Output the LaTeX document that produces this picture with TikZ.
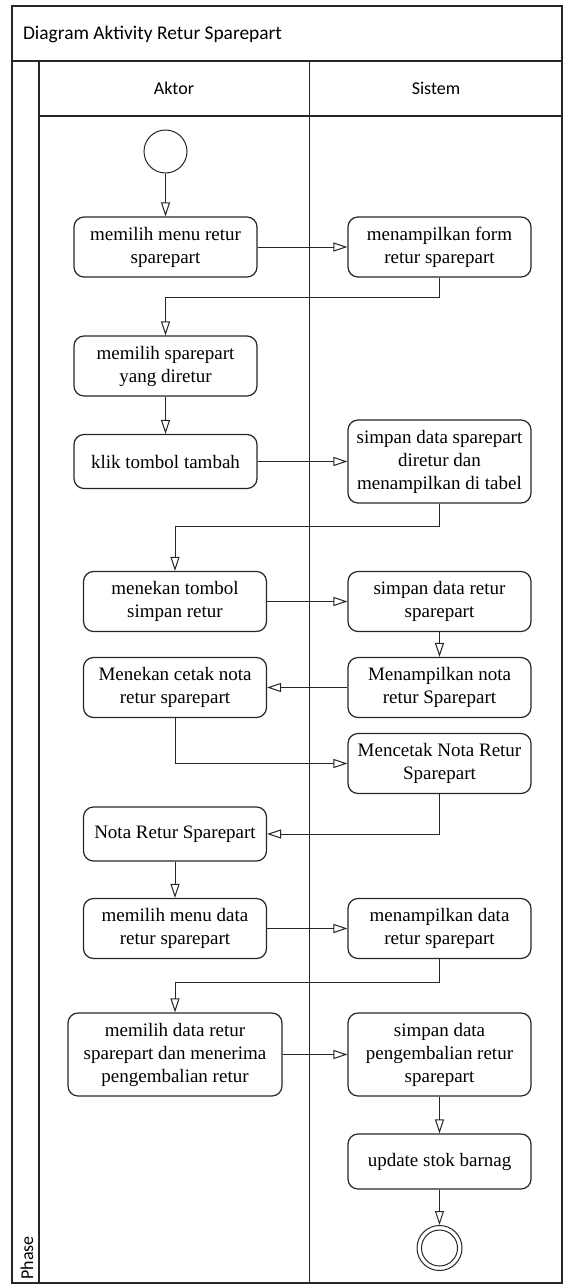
\documentclass[tikz,border=0pt]{standalone}
\usepackage{fontspec}
\setmainfont{Liberation Serif}
\newfontfamily\lanefont{Carlito}
\usepackage{tikz}
\tikzset{action node/.style={rectangle,rounded corners=5pt,draw=black!85,line width=0.6pt,align=center,minimum width=91.5pt,minimum height=30pt,inner sep=1pt,font=\fontsize{9.5}{11.5}\selectfont},
	flow line/.style={draw=black!85,line width=0.5pt,-{Triangle[open,length=7pt,width=4.5pt]}},
	start node/.style={circle,draw=black!85,line width=0.5pt,minimum size=21.5pt,inner sep=0pt},
	lane text/.style={font=\lanefont\fontsize{9}{11}\selectfont},
}
\usetikzlibrary{positioning,arrows.meta}

\begin{document}
\begin{tikzpicture}[x=0.5pt,y=-0.5pt]
			\useasboundingbox (0,0) rectangle (563,1284);
			
			%% frame and lanes
			\draw[black!85,line width=0.7pt] (12,6) rectangle (562,1283);
			\draw[black!85,line width=0.7pt] (12,61) -- (562,61);
			\draw[black!85,line width=0.7pt] (39,61) -- (39,1283);
			\draw[black!85,line width=0.7pt] (39,116) -- (562,116);
			\draw[black!85,line width=0.7pt] (309.5,61) -- (309.5,1283);
			\node[lane text,font=\lanefont\fontsize{9.7}{11}\selectfont,anchor=west] (title) at (16,34) {Diagram Aktivity Retur Sparepart};
			\node[lane text] (aktor) at (174,88) {Aktor};
			\node[lane text] (sistem) at (436,88) {Sistem};
			\node[lane text,rotate=90] (phase) at (27,1258) {Phase};
			
			%% activities
			\node[start node] (start) at (165.5,151.5) {};
			\node[action node] (A1) at (165.5,247) {memilih menu retur\\sparepart};
			\node[action node] (S1) at (439.5,247) {menampilkan form\\retur sparepart};
			\node[action node] (A2) at (165.5,366) {memilih sparepart\\yang diretur};
			\node[action node,minimum height=27pt] (A3) at (165.5,461.5) {klik tombol tambah};
			\node[action node,minimum height=41.5pt] (S2) at (439.5,461.5) {simpan data sparepart\\diretur dan\\menampilkan di tabel};
			\node[action node] (A4) at (175,601.5) {menekan tombol\\simpan retur};
			\node[action node] (S3) at (439.5,601.5) {simpan data retur\\sparepart};
			\node[action node] (A5) at (175,687.5) {Menekan cetak nota\\retur sparepart};
			\node[action node] (S4) at (439.5,687.5) {Menampilkan nota\\retur Sparepart};
			\node[action node] (S5) at (439.5,763.5) {Mencetak Nota Retur\\Sparepart};
			\node[action node,minimum height=27pt] (A6) at (175,834) {Nota Retur Sparepart};
			\node[action node] (A7) at (175,928.5) {memilih menu data\\retur sparepart};
			\node[action node] (S6) at (439.5,928.5) {menampilkan data\\retur sparepart};
			\node[action node,minimum width=107pt,minimum height=41.5pt] (A8) at (175,1054.5) {memilih data retur\\sparepart dan menerima\\pengembalian retur};
			\node[action node,minimum height=41.5pt] (S7) at (439.5,1054.5) {simpan data\\pengembalian retur\\sparepart};
			\node[action node,minimum height=27.5pt] (S8) at (439.5,1161.5) {update stok barnag};
			\node[start node,minimum size=22.5pt] (final) at (439.5,1248) {};
			\node[start node,minimum size=18pt] (final inner) at (final) {};
			
			\path[flow line]
			(start) edge (A1)
			(A1) edge (S1)
			(A2) edge (A3)
			(A3) edge (S2)
			(A4) edge (S3)
			(S3) edge (S4)
			(S4) edge (A5)
			(A6) edge (A7)
			(A7) edge (S6)
			(A8) edge (S7)
			(S7) edge (S8)
			(S8) edge (final)
			;
			\draw[flow line] (S1.south) -- ++(0,20) -| (A2.north);
			\draw[flow line] (S2.south) -- ++(0,23) -| (A4.north);
			\draw[flow line] (A5.south) |- (S5.west);
			\draw[flow line] (S5.south) |- (A6.east);
			\draw[flow line] (S6.south) -- ++(0,23) -| (A8.north);
\end{tikzpicture}
\end{document}
